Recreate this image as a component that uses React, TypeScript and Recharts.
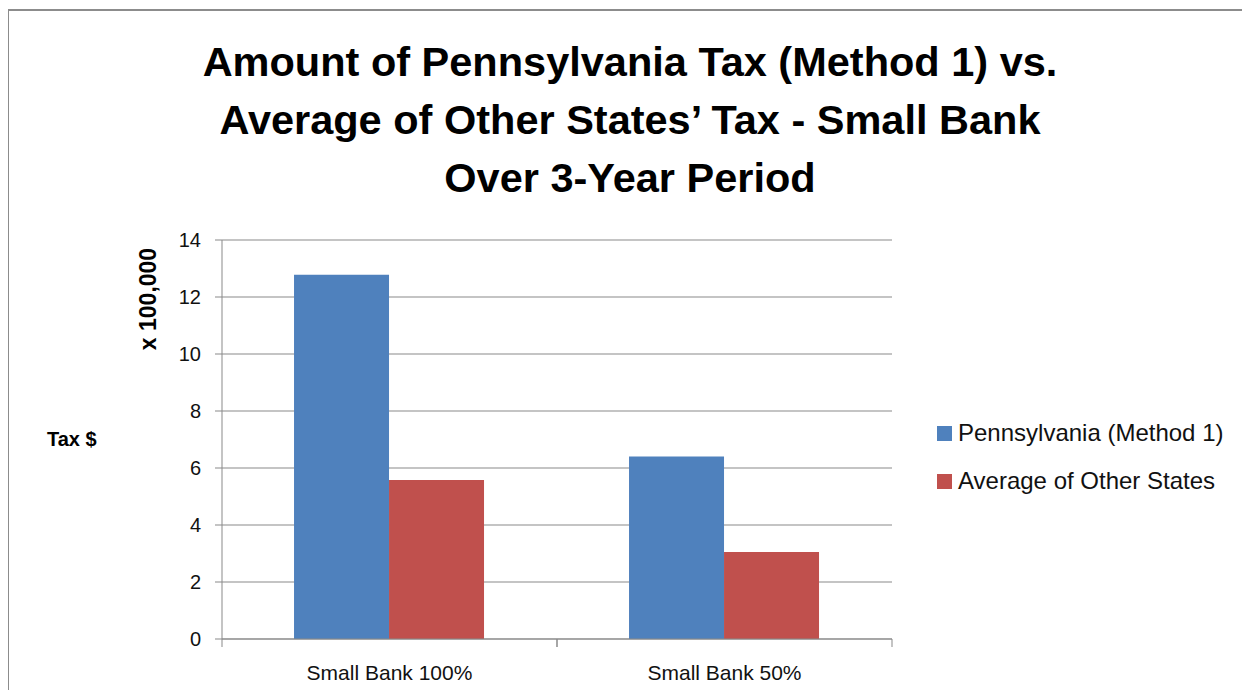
import { Bar, BarChart, CartesianGrid, XAxis, YAxis } from "recharts";

const categories = ["Small Bank 100%", "Small Bank 50%"];
const pennsylvania = [12.78, 6.4];
const otherStates = [5.58, 3.05];
const yTicks = [0, 2, 4, 6, 8, 10, 12, 14];
const seriesNames = ["Pennsylvania (Method 1)", "Average of Other States"];
const seriesColors = ["#4F81BD", "#C0504D"];

const data = categories.map((name, i) => ({
  name,
  pa: pennsylvania[i],
  other: otherStates[i],
}));

const FONT = "'Liberation Sans', 'DejaVu Sans', sans-serif";
const AXIS = "#898989";

function CategoryTick(props: any) {
  const { x, y, payload } = props;
  const half = payload?.offset ?? 0;
  return (
    <g>
      <line x1={x - half} y1={y - 8} x2={x - half} y2={y} stroke={AXIS} />
      <line x1={x + half} y1={y - 8} x2={x + half} y2={y} stroke={AXIS} />
      <text x={x} y={y + 33} textAnchor="middle" fontSize={21} fontFamily={FONT} fill="#111">
        {payload.value}
      </text>
    </g>
  );
}

export default function App() {
  return (
    <div style={{ position: "relative", margin: -8, width: 1250, height: 698, overflow: "hidden", background: "#fff" }}>
      <div
        style={{
          position: "absolute",
          left: 7,
          top: 9,
          width: 1270,
          height: 720,
          border: "2px solid #8c8c8c",
        }}
      />
      <div
        style={{
          position: "absolute",
          left: 0,
          top: 33,
          width: 1260,
          textAlign: "center",
          fontFamily: FONT,
          fontWeight: "bold",
          fontSize: 41.5,
          lineHeight: "58px",
          color: "#000",
        }}
      >
        Amount of Pennsylvania Tax (Method 1) vs.
        <br />
        Average of Other States’ Tax - Small Bank
        <br />
        Over 3-Year Period
      </div>
      <div
        style={{
          position: "absolute",
          left: 47,
          top: 428,
          fontFamily: FONT,
          fontWeight: "bold",
          fontSize: 20,
        }}
      >
        Tax $
      </div>
      <div
        style={{
          position: "absolute",
          left: 148,
          top: 299,
          transform: "translate(-50%, -50%) rotate(-90deg)",
          fontFamily: FONT,
          fontWeight: "bold",
          fontSize: 23,
          whiteSpace: "nowrap",
        }}
      >
        x 100,000
      </div>
      <div style={{ position: "absolute", left: 937, top: 409, fontFamily: FONT, fontSize: 24, color: "#111" }}>
        {seriesNames.map((label, i) => (
          <div key={label} style={{ display: "flex", alignItems: "center", height: 48 }}>
            <span
              style={{ width: 15, height: 15, background: seriesColors[i], marginRight: 6, display: "inline-block" }}
            />
            {label}
          </div>
        ))}
      </div>
      <div style={{ position: "absolute", left: 0, top: 0 }}>
        <BarChart
          width={1250}
          height={698}
          data={data}
          margin={{ top: 240, right: 358, bottom: 19, left: 162 }}
          barCategoryGap="21.5%"
          barGap={0}
        >
          <CartesianGrid vertical={false} stroke={AXIS} strokeWidth={1} />
          <XAxis
            dataKey="name"
            height={40}
            axisLine={{ stroke: AXIS }}
            tickLine={false}
            interval={0}
            tick={<CategoryTick />}
          />
          <YAxis
            width={60}
            domain={[0, 14]}
            ticks={yTicks}
            axisLine={{ stroke: AXIS }}
            tickLine={{ stroke: AXIS }}
            tickSize={7}
            tickMargin={14}
            tick={{ fontSize: 20, fontFamily: FONT, fill: "#111" }}
          />
          <Bar dataKey="pa" name={seriesNames[0]} fill={seriesColors[0]} isAnimationActive={false} />
          <Bar dataKey="other" name={seriesNames[1]} fill={seriesColors[1]} isAnimationActive={false} />
        </BarChart>
      </div>
    </div>
  );
}
